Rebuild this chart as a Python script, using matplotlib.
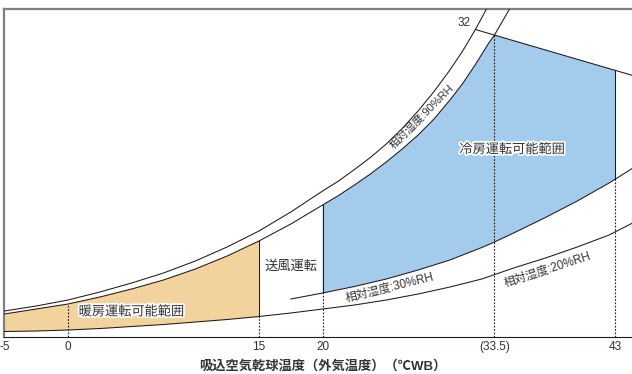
import numpy as np
import matplotlib
matplotlib.use("Agg")
import matplotlib.pyplot as plt
import matplotlib.patheffects as pe

plt.rcParams["font.family"] = ["Liberation Sans", "Noto Sans CJK JP"]

# dry-bulb temperature (deg C) vs. humidity-like vertical value
sat_t = [-5, -2.5, 0, 2.5, 5, 7.5, 10, 12.5, 15, 17.5, 20, 21.25, 22.5, 23.75, 25, 26.25,
         27.5, 28.75, 30, 31, 32, 33, 34]
sat_y = [2.6, 3.1, 3.7, 4.5, 5.4, 6.4, 7.6, 9.0, 10.6, 12.5, 14.6, 15.6, 16.75, 17.95, 19.3, 20.85,
         22.6, 24.55, 26.7, 28.6, 30.75, 33.1, 35.6]

rh90_t = [-5, -2.5, 0, 2.5, 5, 7.5, 10, 12.5, 15, 17.5, 20, 21.25, 22.5, 23.75, 25, 26.25,
          27.5, 28.75, 30, 31, 32, 33, 33.5, 34, 35]
rh90_y = [2.3, 2.8, 3.3, 4.0, 4.8, 5.7, 6.8, 8.1, 9.6, 11.3, 13.2, 14.15, 15.2, 16.3, 17.5, 18.8,
          20.2, 21.8, 23.7, 25.35, 27.25, 29.3, 30.2, 31.3, 33.5]

rh30_t = [17.5, 20, 22.5, 25, 27.5, 30, 32.5, 33.5, 35, 37.5, 40, 42.5, 43, 44.5]
rh30_y = [3.8, 4.4, 5.05, 5.8, 6.7, 7.7, 8.95, 9.5, 10.4, 11.95, 13.6, 15.4, 15.8, 17.0]

rh20_t = [-5, -2.5, 0, 2.5, 5, 7.5, 10, 12.5, 15, 17.5, 20, 22.5, 25, 27.5, 30, 32.5, 35, 37.5, 40, 42.5, 44.5]
rh20_y = [0.55, 0.6, 0.7, 0.85, 1.05, 1.25, 1.5, 1.75, 2.05, 2.4, 2.8, 3.2, 3.7, 4.3, 5.0, 5.8, 6.9, 7.9, 9.0, 10.2, 11.5]

# wet-bulb 32 line
wb_t = [32, 44.5]
wb_y = [30.75, 26.1]

heat_range = (-5, 15)
cool_range = (20, 43)
cool_corner = 33.5

tick_pos = [-5, 0, 15, 20, 33.5, 43]
tick_text = ["-5", "0", "15", "20", "(33.5)", "43"]

LINE = "#231815"
ORANGE = "#f2d39d"
BLUE = "#a2cbec"
TEXT = "#333333"

sat_t, sat_y = np.array(sat_t), np.array(sat_y)
rh90_t, rh90_y = np.array(rh90_t), np.array(rh90_y)
rh30_t, rh30_y = np.array(rh30_t), np.array(rh30_y)
rh20_t, rh20_y = np.array(rh20_t), np.array(rh20_y)

fig = plt.figure(figsize=(6.32, 3.74), dpi=100)
ax = fig.add_axes([0.0068, 0.0989, 0.9932, 0.877])
ax.set_xlim(-5, 44.3)
ax.set_ylim(0, 32.8)

# heating region
m_lo = (rh20_t >= heat_range[0]) & (rh20_t <= heat_range[1])
m_hi = (rh90_t >= heat_range[0]) & (rh90_t <= heat_range[1])
hx = np.concatenate([rh20_t[m_lo], rh90_t[m_hi][::-1]])
hy = np.concatenate([rh20_y[m_lo], rh90_y[m_hi][::-1]])
ax.fill(hx, hy, color=ORANGE, lw=0, zorder=1)

# cooling region
m_top = (rh90_t >= cool_range[0]) & (rh90_t <= cool_corner)
m_bot = (rh30_t >= cool_range[0]) & (rh30_t <= cool_range[1])
wb_end = np.interp(cool_range[1], wb_t, wb_y)
cx = np.concatenate([rh90_t[m_top], [cool_range[1]], rh30_t[m_bot][::-1]])
cy = np.concatenate([rh90_y[m_top], [wb_end], rh30_y[m_bot][::-1]])
ax.fill(cx, cy, color=BLUE, lw=0, zorder=1)

lw = 0.75
for t, y in [(sat_t, sat_y), (rh90_t, rh90_y), (rh30_t, rh30_y), (rh20_t, rh20_y), (wb_t, wb_y)]:
    ax.plot(t, y, color=LINE, lw=lw, zorder=3)


def val(t_arr, y_arr, t):
    return float(y_arr[np.argmin(np.abs(t_arr - t))])


# solid boundaries
ax.plot([15, 15], [val(rh20_t, rh20_y, 15), val(rh90_t, rh90_y, 15)], color=LINE, lw=lw, zorder=3)
ax.plot([20, 20], [val(rh30_t, rh30_y, 20), val(rh90_t, rh90_y, 20)], color=LINE, lw=lw, zorder=3)
ax.plot([43, 43], [val(rh30_t, rh30_y, 43), wb_end], color=LINE, lw=lw, zorder=3)

# dotted guides
dots = dict(color=LINE, lw=0.8, ls=(0, (1.5, 1.5)), zorder=3)
ax.plot([0, 0], [0, val(rh90_t, rh90_y, 0)], **dots)
ax.plot([15, 15], [0, val(rh20_t, rh20_y, 15)], **dots)
ax.plot([20, 20], [0, val(rh30_t, rh30_y, 20)], **dots)
ax.plot([33.5, 33.5], [0, val(rh90_t, rh90_y, 33.5)], **dots)
ax.plot([43, 43], [0, val(rh30_t, rh30_y, 43)], **dots)

# frame
ax.spines["right"].set_visible(False)
ax.spines["top"].set_color("#808080")
ax.spines["top"].set_linewidth(1.6)
ax.spines["left"].set_color("#808080")
ax.spines["left"].set_linewidth(1.6)
ax.spines["bottom"].set_color(LINE)
ax.spines["bottom"].set_linewidth(0.8)
ax.set_yticks([])
ax.set_xticks(tick_pos, tick_text)
ax.tick_params(axis="x", length=0, pad=3, labelsize=8.5, labelcolor=TEXT)

halo = [pe.withStroke(linewidth=2.5, foreground="white")]
ax.text(5.0, 2.5, "暖房運転可能範囲", ha="center", va="center", fontsize=9.5,
        color=TEXT, path_effects=halo, zorder=4)
ax.text(17.5, 7.0, "送風運転", ha="center", va="center", fontsize=9.5, color=TEXT, zorder=4)
ax.text(34.9, 18.7, "冷房運転可能範囲", ha="center", va="center", fontsize=9.5,
        color=TEXT, path_effects=halo, zorder=4)
ax.text(27.8, 22.0, "相対湿度:90%RH", ha="center", va="center", fontsize=8, rotation=45,
        rotation_mode="anchor", color=TEXT, zorder=4)
ax.text(25.3, 4.9, "相対湿度:30%RH", ha="center", va="center", fontsize=8.5, rotation=14,
        rotation_mode="anchor", color=TEXT, zorder=4)
ax.text(37.7, 6.7, "相対湿度:20%RH", ha="center", va="center", fontsize=8.5, rotation=18,
        rotation_mode="anchor", color=TEXT, zorder=4)
ax.text(31.1, 31.45, "32", ha="center", va="center", fontsize=8.5, color=TEXT, zorder=4)

fig.text(323 / 632, 1 - 366 / 374, "吸込空気乾球温度（外気温度）（℃WB）", ha="center", va="center",
         fontsize=9.5, fontweight="bold", color=TEXT)

fig.savefig("out.png", dpi=100)
